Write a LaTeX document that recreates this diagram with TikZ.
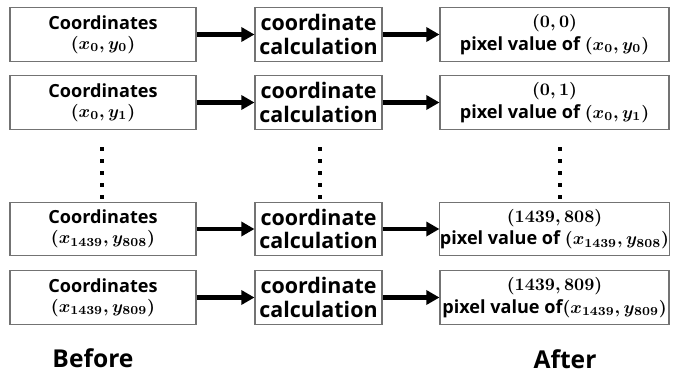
\documentclass[tikz,border=0pt]{standalone}
\usepackage{fontspec}
\setmainfont{Open Sans}
\usepackage{amsmath,bm}
\usetikzlibrary{positioning,arrows.meta,calc}

\begin{document}
\begin{tikzpicture}[
	cbox/.style={draw=black!55, line width=0.6pt, minimum height=1.07cm, inner sep=0pt, align=center},
	lbl/.style={font=\fontsize{10.3}{11.5}\selectfont\bfseries\boldmath},
	val/.style={font=\fontsize{10.3}{12.8}\selectfont\bfseries\boldmath},
	mid/.style={font=\fontsize{12.2}{13.6}\selectfont\bfseries},
	big/.style={font=\fontsize{14}{16}\selectfont\bfseries},
	arr/.style={-{Triangle[length=7.5pt,width=8pt]}, line width=2.4pt}
	]
	\useasboundingbox (0,0) rectangle (13.46,7.44);
	% left column
	\node[cbox, lbl, minimum width=3.72cm] (a1) at (2.06,6.75) {Coordinates\\$\bm{(x_0,y_0)}$};
	\node[cbox, lbl, minimum width=3.72cm] (a2) at (2.06,5.39) {Coordinates\\$\bm{(x_0,y_1)}$};
	\node[cbox, lbl, minimum width=3.72cm] (a3) at (2.06,2.86) {Coordinates\\$\bm{(x_{1439},y_{808})}$};
	\node[cbox, lbl, minimum width=3.72cm] (a4) at (2.06,1.49) {Coordinates\\$\bm{(x_{1439},y_{809})}$};
	% middle column
	\node[cbox, mid, minimum width=2.54cm] (b1) at (6.37,6.75) {coordinate\\calculation};
	\node[cbox, mid, minimum width=2.54cm] (b2) at (6.37,5.39) {coordinate\\calculation};
	\node[cbox, mid, minimum width=2.54cm] (b3) at (6.37,2.86) {coordinate\\calculation};
	\node[cbox, mid, minimum width=2.54cm] (b4) at (6.37,1.49) {coordinate\\calculation};
	% right column
	\node[cbox, val, minimum width=4.58cm] (c1) at (11.09,6.75) {$\bm{(0,0)}$\\pixel value of $\bm{(x_0,y_0)}$};
	\node[cbox, val, minimum width=4.58cm] (c2) at (11.09,5.39) {$\bm{(0,1)}$\\pixel value of $\bm{(x_0,y_1)}$};
	\node[cbox, val, minimum width=4.58cm] (c3) at (11.09,2.86) {$\bm{(1439,808)}$\\pixel value of $\bm{(x_{1439},y_{808})}$};
	\node[cbox, val, minimum width=4.58cm] (c4) at (11.09,1.49) {$\bm{(1439,809)}$\\pixel value of$\bm{(x_{1439},y_{809})}$};
	\draw[arr] (a1) -- (b1);
	\draw[arr] (a2) -- (b2);
	\draw[arr] (a3) -- (b3);
	\draw[arr] (a4) -- (b4);
	\draw[arr] (b1) -- (c1);
	\draw[arr] (b2) -- (c2);
	\draw[arr] (b3) -- (c3);
	\draw[arr] (b4) -- (c4);
	% dots
	\foreach \x in {2.04,6.4,11.2}
		\foreach \y in {4.46,4.22,3.98,3.74,3.50}
			\fill (\x-0.04,\y-0.04) rectangle (\x+0.04,\y+0.04);
	\node[big] (before) at (1.86,0.28) {Before};
	\node[big] (after) at (11.3,0.26) {After};
\end{tikzpicture}
\end{document}
